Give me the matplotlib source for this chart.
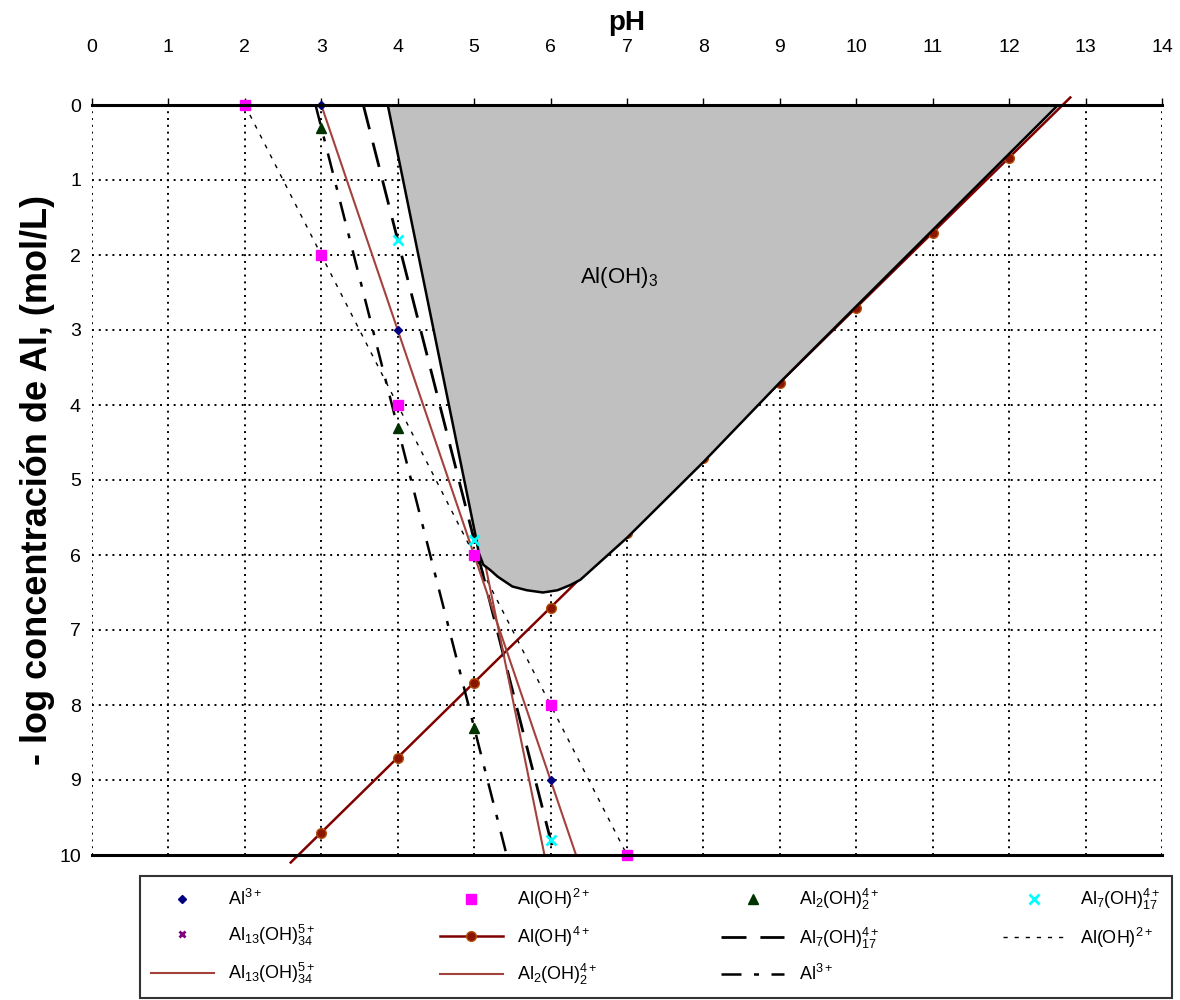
import numpy as np
import matplotlib
matplotlib.use('Agg')
import matplotlib.pyplot as plt
from matplotlib.patches import Polygon

plt.rcParams['font.family'] = ['Liberation Sans', 'DejaVu Sans']
plt.rcParams['mathtext.fontset'] = 'custom'
plt.rcParams['mathtext.rm'] = 'Liberation Sans'
plt.rcParams['mathtext.it'] = 'Liberation Sans'
plt.rcParams['mathtext.bf'] = 'Liberation Sans:bold'

# marker series (pH, -log C)
al3_ph = [3, 4, 5, 6]
al3_y = [0, 3, 6, 9]
aloh_ph = [2, 3, 4, 5, 6, 7]
aloh_y = [0, 2, 4, 6, 8, 10]
al2_ph = [3, 4, 5]
al2_y = [0.3, 4.3, 8.3]
al7_ph = [4, 5, 6]
al7_y = [1.8, 5.8, 9.8]
al13_ph = [4, 5]
al13_y = [0.4, 5.4]

# Al(OH)4 line with markers at the integer pH values
aloh4_ph = [2.6, 3, 4, 5, 6, 7, 8, 9, 10, 11, 12, 12.8]
aloh4_y = [10.1, 9.7, 8.7, 7.7, 6.7, 5.7, 4.7, 3.7, 2.7, 1.7, 0.7, -0.1]

# straight lines (end points)
l_al7_ph = [3.55, 6.05]
l_al7_y = [0, 10]
l_aloh_ph = [2, 7]
l_aloh_y = [0, 10]
l_dashdot_ph = [2.925, 5.425]
l_dashdot_y = [0, 10]
l_brown13_ph = [3.92, 5.92]
l_brown13_y = [0, 10]
l_brown2_ph = [3, 6.333]
l_brown2_y = [0, 10]

# Al(OH)3 solid region
solid_ph = [3.87, 5.03, 5.06, 5.12, 5.21, 5.31, 5.5, 5.69, 5.9, 6.09, 6.26, 6.39,
            7.0, 8.0, 9.0, 12.64]
solid_y = [0, 5.8, 5.97, 6.13, 6.2, 6.29, 6.42, 6.47, 6.5, 6.47, 6.4, 6.33,
           5.77, 4.76, 3.7, 0]

brown = '#A3423C'

fig = plt.figure(figsize=(11.8, 10), dpi=100)
ax = fig.add_axes([92/1180, 145/1000, 1070/1180, 750/1000])

ax.add_patch(Polygon(np.column_stack([solid_ph, solid_y]), closed=True,
                     facecolor='#C0C0C0', edgecolor='black', lw=1.8, zorder=3))
ax.text(6.9, 2.3, r'Al(OH)$_3$', fontsize=16, ha='center', va='center', zorder=5)

h = {}
h['al3'], = ax.plot(al3_ph, al3_y, 'D', color='#000080', ms=4, ls='none', zorder=4, clip_on=False)
h['aloh'], = ax.plot(aloh_ph, aloh_y, 's', color='#FF00FF', ms=7, ls='none', zorder=4, clip_on=False)
h['al2'], = ax.plot(al2_ph, al2_y, '^', color='#003300', ms=7, ls='none', zorder=4)
h['al7'], = ax.plot(al7_ph, al7_y, 'x', color='#00FFFF', ms=7, mew=2, ls='none', zorder=4)
h['al13'], = ax.plot(al13_ph, al13_y, 'x', color='#800080', ms=5, mew=2, ls='none', zorder=2)
h['aloh4'], = ax.plot(aloh4_ph, aloh4_y, '-', color='#800000', lw=1.8, marker='o', ms=7,
                      mfc='#8B1500', mec='#B0500A', markevery=list(range(1, 11)),
                      zorder=2, clip_on=False)
h['l_al7'], = ax.plot(l_al7_ph, l_al7_y, color='black', lw=2, dashes=(9, 5), zorder=2)
h['l_aloh'], = ax.plot(l_aloh_ph, l_aloh_y, color='black', lw=1, dashes=(3, 5), zorder=2)
h['l_dd'], = ax.plot(l_dashdot_ph, l_dashdot_y, color='black', lw=1.8, dashes=(8, 5, 2, 5), zorder=2)
h['l_b13'], = ax.plot(l_brown13_ph, l_brown13_y, color=brown, lw=1.5, zorder=2)
h['l_b2'], = ax.plot(l_brown2_ph, l_brown2_y, color=brown, lw=1.5, zorder=2)

ax.set_xlim(0, 14)
ax.set_ylim(10, 0)
ax.set_xticks(range(0, 15))
ax.set_yticks(range(0, 11))
ax.xaxis.tick_top()
ax.xaxis.set_label_position('top')
ax.tick_params(axis='x', direction='out', length=5, width=1, labelsize=14, pad=30)
ax.tick_params(axis='y', length=0, labelsize=14, pad=8)
ax.grid(True, color='black', lw=1.4, ls=(0, (1, 2.5)))
ax.set_axisbelow(True)
for s in ['left', 'right']:
    ax.spines[s].set_visible(False)
for s in ['top', 'bottom']:
    ax.spines[s].set_linewidth(2.2)
    ax.spines[s].set_zorder(6)

ax.set_xlabel('pH', fontsize=20, fontweight='bold', labelpad=7)
ax.set_ylabel('- log concentración de Al, (mol/L)', fontsize=26, fontweight='bold', labelpad=3)

sup = lambda s: r'$\mathregular{' + s + '}$'
labels = [
    (h['al3'], 'Al' + sup('^{3+}')),
    (h['aloh'], 'Al(OH)' + sup('^{2+}')),
    (h['al2'], 'Al' + sup('_{2}') + '(OH)' + sup('_{2}^{4+}')),
    (h['al7'], 'Al' + sup('_{7}') + '(OH)' + sup('_{17}^{4+}')),
    (h['al13'], 'Al' + sup('_{13}') + '(OH)' + sup('_{34}^{5+}')),
    (h['aloh4'], 'Al(OH)' + sup('^{4+}')),
    (h['l_al7'], 'Al' + sup('_{7}') + '(OH)' + sup('_{17}^{4+}')),
    (h['l_aloh'], 'Al(OH)' + sup('^{2+}')),
    (h['l_b13'], 'Al' + sup('_{13}') + '(OH)' + sup('_{34}^{5+}')),
    (h['l_b2'], 'Al' + sup('_{2}') + '(OH)' + sup('_{2}^{4+}')),
    (h['l_dd'], 'Al' + sup('^{3+}')),
]
# legend fills columns first, reorder so it reads row by row
order = [0, 4, 8, 1, 5, 9, 2, 6, 10, 3, 7]
leg = fig.legend([labels[i][0] for i in order], [labels[i][1] for i in order],
                 ncol=4, mode='expand', loc='lower left',
                 bbox_to_anchor=(140/1180, 2/1000, 1032/1180, 125/1000),
                 borderaxespad=0, fontsize=13, frameon=True, fancybox=False,
                 edgecolor='black', handlelength=3.5, borderpad=0.6,
                 labelspacing=0.75, columnspacing=1.0)
leg.get_frame().set_linewidth(1.5)

fig.savefig('out.png', dpi=100)
